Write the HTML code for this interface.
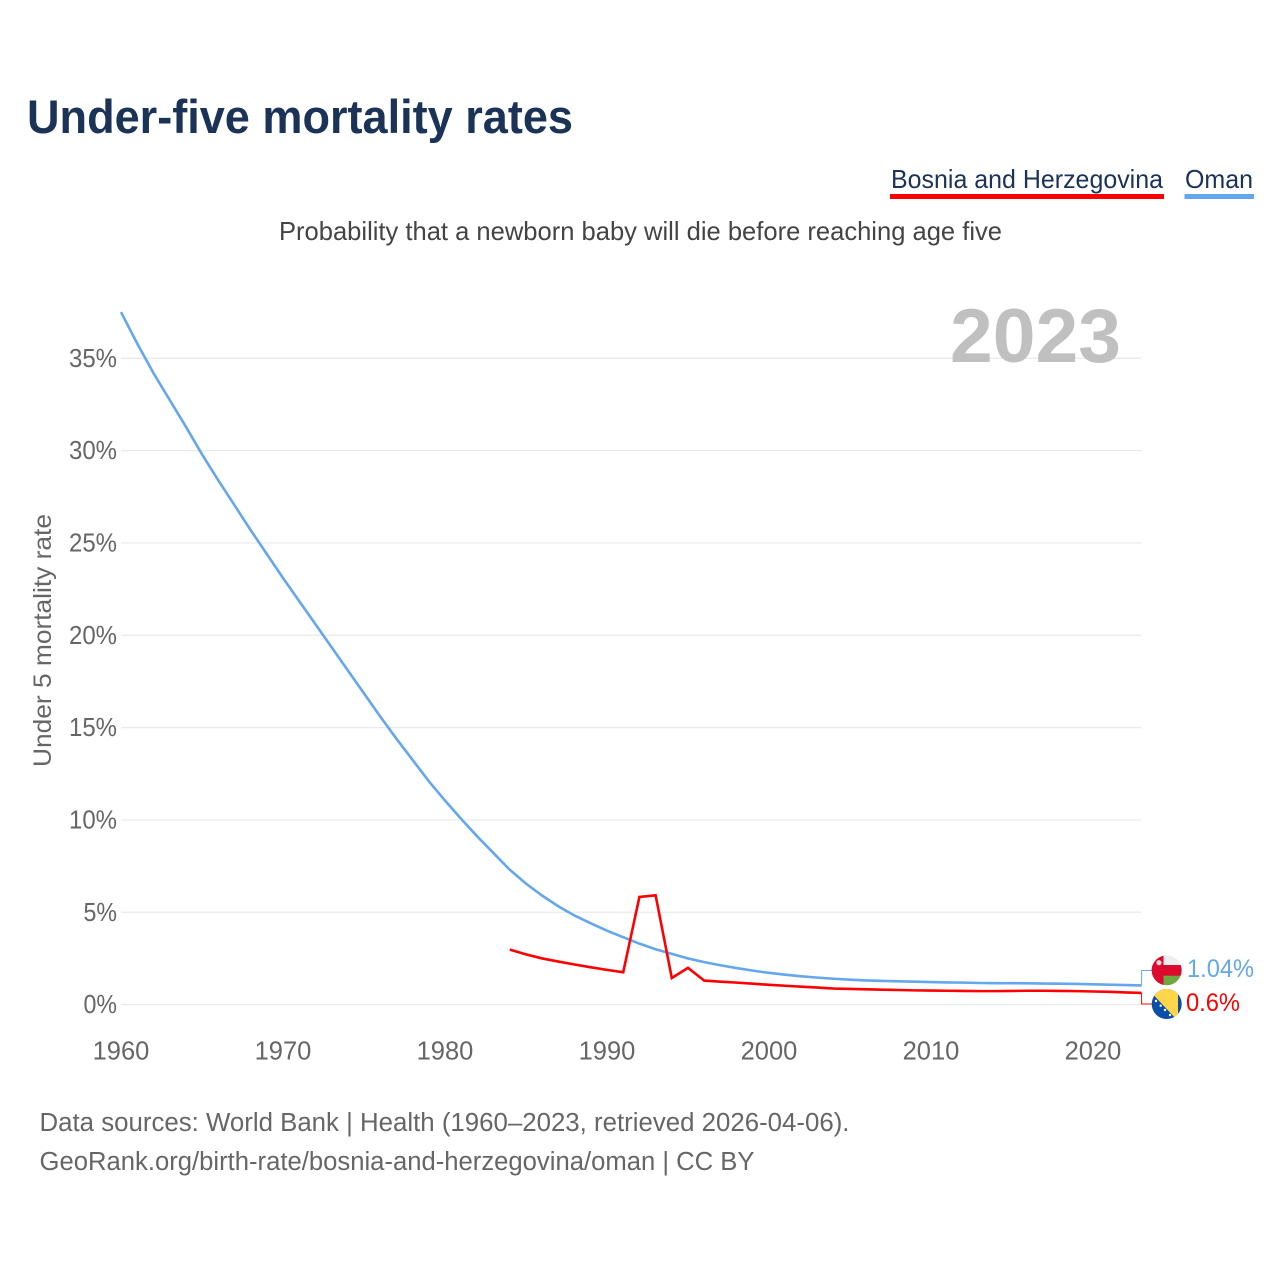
<!DOCTYPE html>
<html lang="en">
<head>
<meta charset="utf-8">
<title>Under-five mortality rates</title>
<style>
html,body{margin:0;padding:0;background:#fff;}
svg{display:block;font-family:"Liberation Sans",sans-serif;}
</style>
</head>
<body>
<svg id="chart" xmlns="http://www.w3.org/2000/svg" width="1280" height="1280" viewBox="0 0 1280 1280">
<defs>
<clipPath id="clip-oman"><circle cx="1166.7" cy="970.3" r="15"/></clipPath>
<clipPath id="clip-bosnia"><circle cx="1166.7" cy="1004" r="15"/></clipPath>
</defs>
<rect x="0" y="0" width="1280" height="1280" fill="#fff"/>
<text x="27" y="133" font-size="47" font-weight="700" fill="#1a3356" textLength="546" lengthAdjust="spacingAndGlyphs">Under-five mortality rates</text>
<text x="891" y="188" font-size="26" fill="#1a3356" textLength="272" lengthAdjust="spacingAndGlyphs">Bosnia and Herzegovina</text>
<rect x="890" y="194" width="274" height="5" fill="#ff0000"/>
<text x="1185" y="188" font-size="26" fill="#1a3356" textLength="68" lengthAdjust="spacingAndGlyphs">Oman</text>
<rect x="1184.5" y="194" width="69.5" height="5" fill="#64a7ec"/>
<text x="279" y="240" font-size="26" fill="#444" textLength="723" lengthAdjust="spacingAndGlyphs">Probability that a newborn baby will die before reaching age five</text>
<g id="grid"></g>
<text x="950" y="362" font-size="76" font-weight="700" fill="#c0c0c0" textLength="171" lengthAdjust="spacingAndGlyphs">2023</text>
<g id="y-ticks"></g>
<g id="x-ticks"></g>
<text transform="translate(51 767) rotate(-90)" font-size="25" fill="#666" textLength="253" lengthAdjust="spacingAndGlyphs">Under 5 mortality rate</text>
<g id="series"></g>
<g clip-path="url(#clip-oman)">
<rect x="1150" y="954" width="34" height="12" fill="#eeeeee"/>
<rect x="1150" y="965" width="34" height="11" fill="#db0a2e"/>
<rect x="1150" y="975.7" width="34" height="12" fill="#6ea63f"/>
<rect x="1150" y="954" width="13.5" height="34" fill="#db0a2e"/>
<circle cx="1159" cy="962.7" r="2.6" fill="#f3d9d9"/>
</g>
<g clip-path="url(#clip-bosnia)">
<rect x="1150" y="987" width="34" height="34" fill="#0a4ea8"/>
<polygon points="1146,987 1178,987 1178,1021" fill="#fdd64a"/>
<circle cx="1156" cy="1001" r="1.2" fill="#fff"/>
<circle cx="1160.7" cy="1005.7" r="1.2" fill="#fff"/>
<circle cx="1165" cy="1010" r="1.2" fill="#fff"/>
<circle cx="1170" cy="1015" r="1.2" fill="#fff"/>
</g>
<text x="1187" y="977" font-size="25" fill="#64a7ec" textLength="67" lengthAdjust="spacingAndGlyphs">1.04%</text>
<text x="1186" y="1011" font-size="25" fill="#ff0000" textLength="54" lengthAdjust="spacingAndGlyphs">0.6%</text>
<text x="39.5" y="1131" font-size="25.5" fill="#666" textLength="810" lengthAdjust="spacingAndGlyphs">Data sources: World Bank | Health (1960–2023, retrieved 2026-04-06).</text>
<text x="39.5" y="1170" font-size="25.5" fill="#666" textLength="715" lengthAdjust="spacingAndGlyphs">GeoRank.org/birth-rate/bosnia-and-herzegovina/oman | CC BY</text>
</svg>
<script>
const omanStartYear = 1960;
const omanValues = [37.5,35.8,34.2,32.75,31.3,29.8,28.4,27.05,25.7,24.4,23.1,21.85,20.6,19.35,18.1,16.85,15.6,14.4,13.25,12.1,11.05,10.05,9.1,8.2,7.3,6.55,5.9,5.32,4.82,4.4,4.0,3.65,3.3,3.0,2.75,2.5,2.3,2.13,1.98,1.84,1.72,1.62,1.53,1.46,1.4,1.35,1.31,1.28,1.26,1.24,1.22,1.2,1.19,1.17,1.16,1.16,1.15,1.14,1.13,1.12,1.1,1.08,1.06,1.04];
const bosniaStartYear = 1984;
const bosniaValues = [2.98,2.72,2.5,2.33,2.17,2.02,1.88,1.75,5.83,5.92,1.44,1.99,1.3,1.24,1.19,1.13,1.07,1.02,0.97,0.92,0.87,0.85,0.83,0.81,0.79,0.77,0.76,0.75,0.74,0.73,0.73,0.74,0.75,0.75,0.74,0.73,0.71,0.69,0.66,0.63];
const yTicks = [0,5,10,15,20,25,30,35];
const xTicks = [1960,1970,1980,1990,2000,2010,2020];

const NS = 'http://www.w3.org/2000/svg';
const xScale = function (year) { return 121 + (year - 1960) * 16.2; };
const yScale = function (v) { return 1004.6 - v * 18.467; };
const make = function (parentId, tag) {
  const el = document.createElementNS(NS, tag);
  document.getElementById(parentId).appendChild(el);
  return el;
};

yTicks.forEach(function (t) {
  const line = make('grid', 'line');
  
  
  line.setAttribute('x1', xScale(1960));
  line.setAttribute('x2', xScale(2023));
  line.setAttribute('y1', yScale(t));
  line.setAttribute('y2', yScale(t));
  line.setAttribute('stroke', '#eaeaea');
  line.setAttribute('stroke-width', '1.2');

  const label = make('y-ticks', 'text');
  
  
  const str = t + '%';
  label.textContent = str;
  const w = (str.length - 1) * 14.5 + 19;
  label.setAttribute('x', 117 - w);
  label.setAttribute('y', yScale(t) + 8.5);
  label.setAttribute('font-size', '25.5');
  label.setAttribute('fill', '#666');
  label.setAttribute('textLength', w);
  label.setAttribute('lengthAdjust', 'spacingAndGlyphs');
});

xTicks.forEach(function (t) {
  const label = make('x-ticks', 'text');
  
  
  label.textContent = t;
  label.setAttribute('x', xScale(t));
  label.setAttribute('y', 1059.5);
  label.setAttribute('font-size', '25.5');
  label.setAttribute('fill', '#666');
  label.setAttribute('text-anchor', 'middle');
});

const toPoints = function (start, values) {
  return values.map(function (v, i) {
    return xScale(start + i).toFixed(2) + ',' + yScale(v).toFixed(2);
  }).join(' ');
};

const omanLine = make('series', 'polyline');


omanLine.setAttribute('points', toPoints(omanStartYear, omanValues));
omanLine.setAttribute('fill', 'none');
omanLine.setAttribute('stroke', '#64a7ec');
omanLine.setAttribute('stroke-width', '2.6');

const bosniaLine = make('series', 'polyline');


bosniaLine.setAttribute('points', toPoints(bosniaStartYear, bosniaValues));
bosniaLine.setAttribute('fill', 'none');
bosniaLine.setAttribute('stroke', '#ff0000');
bosniaLine.setAttribute('stroke-width', '2.6');

const endX = xScale(2023);
const omanEnd = yScale(omanValues[omanValues.length - 1]);
const bosniaEnd = yScale(bosniaValues[bosniaValues.length - 1]);

const omanLink = make('series', 'polyline');


omanLink.setAttribute('points', endX + ',' + omanEnd + ' ' + endX + ',970.5 1153,970.5');
omanLink.setAttribute('fill', 'none');
omanLink.setAttribute('stroke', '#64a7ec');
omanLink.setAttribute('stroke-width', '1');

const bosniaLink = make('series', 'polyline');


bosniaLink.setAttribute('points', endX + ',' + bosniaEnd + ' ' + endX + ',1004 1153,1004');
bosniaLink.setAttribute('fill', 'none');
bosniaLink.setAttribute('stroke', '#ff0000');
bosniaLink.setAttribute('stroke-width', '1');
</script>
</body>
</html>
